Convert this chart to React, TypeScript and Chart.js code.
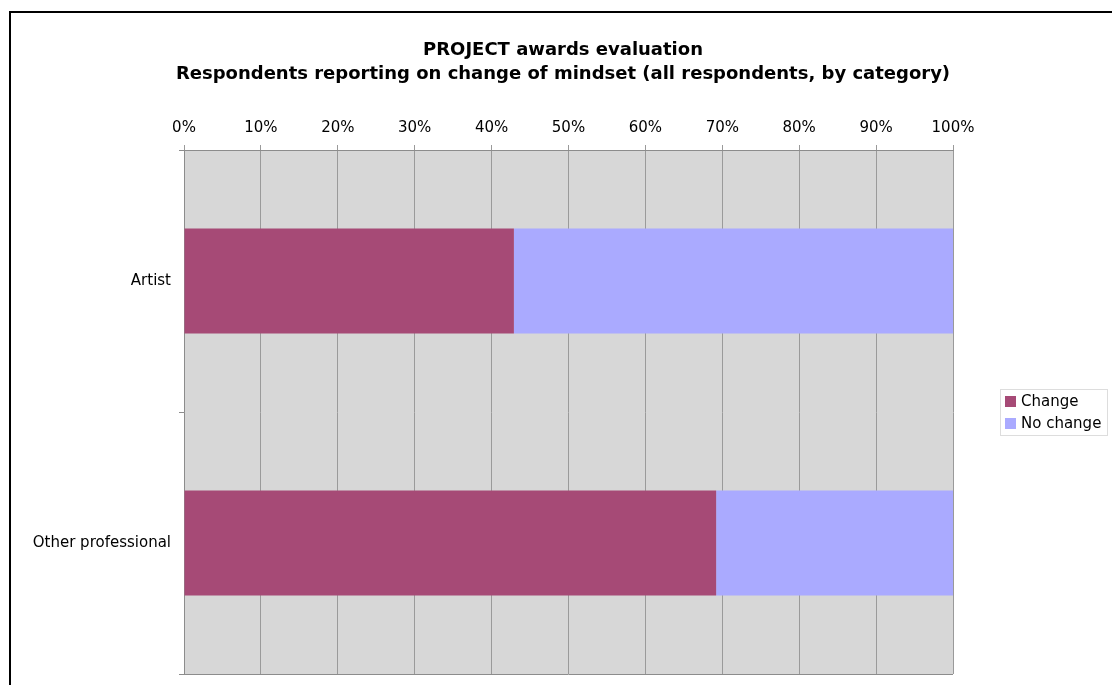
import React, { useEffect, useRef } from "react";
import { Chart, registerables } from "chart.js";

Chart.register(...registerables);

const titleLines = [
  "PROJECT awards evaluation",
  "Respondents reporting on change of mindset (all respondents, by category)",
];
const categories = ["Artist", "Other professional"];
const seriesNames = ["Change", "No change"];
const changeValues = [42.9, 69.2];
const noChangeValues = [57.1, 30.8];
const seriesColors = ["#a64a76", "#aaaaff"];
const xTicks = [0, 10, 20, 30, 40, 50, 60, 70, 80, 90, 100];

const FONT = "'DejaVu Sans', Verdana, sans-serif";

const plotBackground = {
  id: "plotBackground",
  beforeDraw(chart: any) {
    const { ctx, chartArea } = chart;
    if (!chartArea) return;
    ctx.save();
    ctx.fillStyle = "#d7d7d7";
    ctx.fillRect(chartArea.left, chartArea.top, chartArea.right - chartArea.left, chartArea.bottom - chartArea.top);
    ctx.restore();
  },
  beforeDatasetsDraw(chart: any) {
    const { ctx, chartArea } = chart;
    ctx.save();
    ctx.strokeStyle = "#8c8c8c";
    ctx.lineWidth = 1;
    ctx.beginPath();
    ctx.moveTo(chartArea.left, Math.round(chartArea.bottom) + 0.5);
    ctx.lineTo(chartArea.right, Math.round(chartArea.bottom) + 0.5);
    ctx.stroke();
    ctx.restore();
  },
};

const boxLegend = {
  id: "boxLegend",
  afterDraw(chart: any) {
    const { ctx, chartArea } = chart;
    const left = chartArea.right + 47;
    const w = 107;
    const h = 46;
    const top = (chartArea.top + chartArea.bottom) / 2 - h / 2;
    ctx.save();
    ctx.fillStyle = "#ffffff";
    ctx.fillRect(left, top, w, h);
    ctx.strokeStyle = "#dddddd";
    ctx.lineWidth = 1;
    ctx.strokeRect(Math.round(left) + 0.5, Math.round(top) + 0.5, w, h);
    chart.data.datasets.forEach((ds: any, i: number) => {
      const cy = top + 13 + i * 22;
      ctx.fillStyle = ds.backgroundColor;
      ctx.fillRect(left + 5, cy - 6, 11, 11);
      ctx.fillStyle = "#000000";
      ctx.font = `15px ${FONT}`;
      ctx.textBaseline = "middle";
      ctx.textAlign = "left";
      ctx.fillText(ds.label, left + 21, cy);
    });
    ctx.restore();
  },
};

export default function App() {
  const ref = useRef<HTMLCanvasElement>(null);

  useEffect(() => {
    if (!ref.current) return;
    Chart.defaults.font.family = FONT;
    const chart = new Chart(ref.current, {
      type: "bar",
      data: {
        labels: categories,
        datasets: [
          {
            label: seriesNames[0],
            data: changeValues,
            backgroundColor: seriesColors[0],
            categoryPercentage: 0.4,
            barPercentage: 1,
          },
          {
            label: seriesNames[1],
            data: noChangeValues,
            backgroundColor: seriesColors[1],
            categoryPercentage: 0.4,
            barPercentage: 1,
          },
        ],
      },
      options: {
        indexAxis: "y",
        responsive: false,
        animation: false,
        layout: { padding: { left: 0, right: 0, top: 0, bottom: 39 } },
        plugins: {
          legend: { display: false },
          tooltip: { enabled: false },
          title: {
            display: true,
            text: titleLines,
            color: "#000000",
            font: { size: 18, weight: "bold", family: FONT, lineHeight: 24 / 18 },
            padding: { top: 25, bottom: 0 },
          },
        },
        scales: {
          x: {
            position: "top",
            stacked: true,
            min: 0,
            max: 100,
            afterBuildTicks(scale: any) {
              scale.ticks = xTicks.map((v) => ({ value: v }));
            },
            afterFit(scale: any) {
              scale.height = 64;
            },
            ticks: {
              color: "#000000",
              font: { size: 15, family: FONT },
              padding: 8,
              callback: (v: any) => `${v}%`,
            },
            grid: { color: "#9a9a9a", tickLength: 5, lineWidth: 1 },
            border: { color: "#8c8c8c" },
          },
          y: {
            stacked: true,
            afterFit(scale: any) {
              scale.width = 173;
            },
            ticks: {
              color: "#000000",
              font: { size: 15, family: FONT },
              padding: 8,
            },
            grid: {
              drawOnChartArea: false,
              drawTicks: true,
              tickLength: 5,
              color: "#8c8c8c",
              offset: true,
            },
            border: { color: "#8c8c8c" },
          },
          legendSpace: {
            type: "category",
            position: "right",
            display: true,
            afterFit(scale: any) {
              scale.width = 162;
            },
            ticks: { display: false },
            grid: { display: false, drawTicks: false },
            border: { display: false },
          },
        },
      },
      plugins: [plotBackground, boxLegend],
    });
    return () => chart.destroy();
  }, []);

  return (
    <div style={{ position: "fixed", left: 0, top: 0, width: 1112, height: 685, overflow: "hidden", background: "#fff" }}>
      <div
        style={{
          position: "absolute",
          left: 9,
          top: 11,
          width: 1104,
          height: 700,
          border: "2px solid #000",
        }}
      >
        <canvas ref={ref} width={1104} height={700} style={{ display: "block" }} />
      </div>
    </div>
  );
}
